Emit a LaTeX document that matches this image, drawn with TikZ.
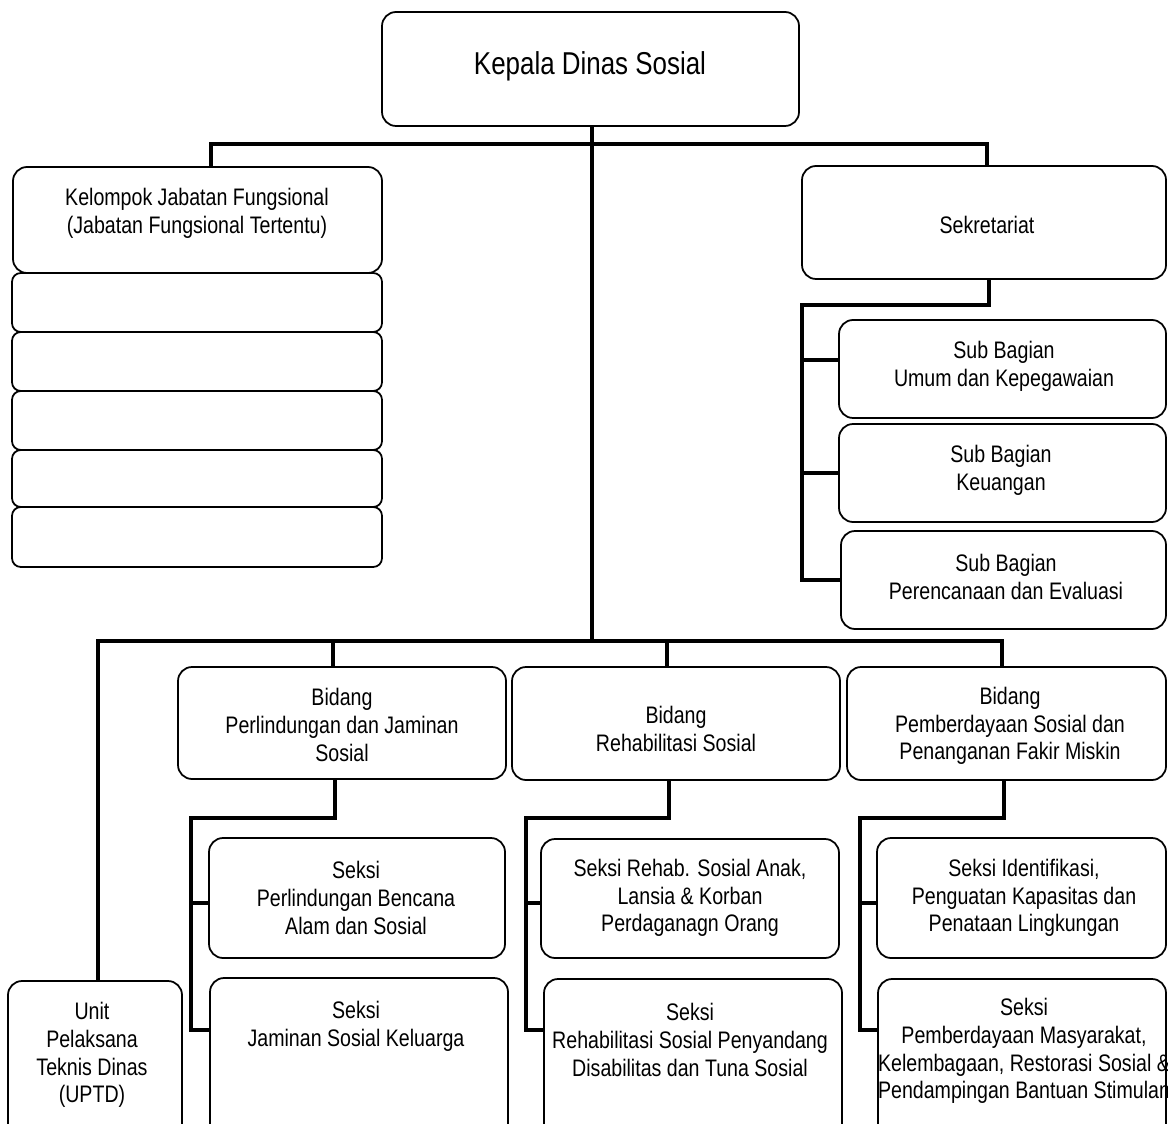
\documentclass[tikz,border=0pt]{standalone}
\usepackage{fontspec}
\setmainfont{Liberation Sans}[FakeStretch=0.82]
\usetikzlibrary{fit}
\tikzset{
  box/.style={draw=black, line width=1pt, rounded corners=8pt, inner sep=0pt, fill=white},
  sbox/.style={box, rounded corners=5pt},
  conn/.style={draw=black, line width=2.1pt, line cap=rect, line join=miter},
  txt/.style={align=center, inner sep=0pt, font=\fontsize{13.6}{15.8}\selectfont},
  big/.style={align=center, inner sep=0pt, font=\fontsize{18}{21}\selectfont}
}
\newcommand\bx[6][box]{\node[#1, fit={(#3,#4) (#5,#6)}] (#2) {};}
\begin{document}
\begin{tikzpicture}[x=0.02cm, y=-0.02cm]
\clip (0,0) rectangle (1168,1124);
\fill[white] (0,0) rectangle (1168,1124);

% helper coordinates
\coordinate (xM) at (592,0);
\coordinate (xK) at (211,0);
\coordinate (xS) at (987,0);
\coordinate (xS2) at (989,0);
\coordinate (xSv) at (802,0);
\coordinate (tbar) at (0,144);
\coordinate (sbar) at (0,305);
\coordinate (bbar) at (0,641);
\coordinate (xU) at (98,0);
\coordinate (xB1) at (333,0);
\coordinate (xB2) at (667,0);
\coordinate (xB3) at (1002,0);
\coordinate (xB1d) at (335,0);
\coordinate (xB2d) at (669,0);
\coordinate (xB3d) at (1004,0);
\coordinate (xV1) at (191,0);
\coordinate (xV2) at (526,0);
\coordinate (xV3) at (860,0);
\coordinate (lbar) at (0,818);
\coordinate (yA) at (0,903);
\coordinate (yB) at (0,1030);
\coordinate (ySB1) at (0,360);

% connectors (drawn first, boxes on top)
\draw[conn] (xM |- 0,126) -- (xM |- bbar);
\draw[conn] (xK |- 0,167) -- (xK |- tbar) -- (xS |- tbar) -- (xS |- 0,166);
\draw[conn] (xS2 |- 0,279) -- (xS2 |- sbar) -- (xSv |- sbar) -- (xSv |- 0,579);
\draw[conn] (xU |- 0,981) -- (xU |- bbar) -- (xB3 |- bbar) -- (xB3 |- 0,667);
\draw[conn] (xB1 |- bbar) -- (xB1 |- 0,667);
\draw[conn] (xB2 |- bbar) -- (xB2 |- 0,667);
\foreach \d/\v in {xB1d/xV1, xB2d/xV2, xB3d/xV3}{
  \draw[conn] (\d |- 0,779) -- (\d |- lbar) -- (\v |- lbar) -- (\v |- yB);
}

% boxes
\bx{kepala}{382}{12}{799}{126}
\bx{kelompok}{13}{167}{382}{273}
\bx[sbox]{jf1}{12}{273}{382}{332}
\bx[sbox]{jf2}{12}{332}{382}{391}
\bx[sbox]{jf3}{12}{391}{382}{450}
\bx[sbox]{jf4}{12}{450}{382}{507}
\bx[sbox]{jf5}{12}{507}{382}{567}
\bx{sekr}{802}{166}{1166}{279}
\bx{sb1}{839}{320}{1166}{418}
\bx{sb2}{839}{424}{1166}{522}
\bx{sb3}{841}{531}{1166}{629}
\bx{bid1}{178}{667}{506}{779}
\bx{bid2}{512}{667}{840}{780}
\bx{bid3}{847}{667}{1166}{780}
\bx{sek1}{209}{838}{505}{958}
\bx{sekR}{541}{839}{839}{958}
\bx{sekI}{877}{838}{1166}{958}
\bx{sek2}{210}{978}{508}{1150}
\bx{sekRh}{544}{979}{842}{1150}
\bx{sekP}{878}{979}{1166}{1150}
\bx{uptd}{8}{981}{182}{1150}

% branches into boxes
\draw[conn] (xSv |- ySB1) -- (sb1.west |- ySB1);
\draw[conn] (xSv |- sb2.west) -- (sb2.west);
\draw[conn] (xSv |- sb3.west) -- (sb3.west);
\draw[conn] (xV1 |- yA) -- (sek1.west |- yA);
\draw[conn] (xV1 |- yB) -- (sek2.west |- yB);
\draw[conn] (xV2 |- yA) -- (sekR.west |- yA);
\draw[conn] (xV2 |- yB) -- (sekRh.west |- yB);
\draw[conn] (xV3 |- yA) -- (sekI.west |- yA);
\draw[conn] (xV3 |- yB) -- (sekP.west |- yB);

% texts
\node[big] (t-kepala) at (590,66) {Kepala Dinas Sosial};
\node[txt] (t-kelompok) at (197,213) {Kelompok Jabatan Fungsional\\(Jabatan Fungsional Tertentu)};
\node[txt] (t-sekr) at (987,225) {Sekretariat};
\node[txt] (t-sb1) at (1004,366) {Sub Bagian\\Umum dan Kepegawaian};
\node[txt] (t-sb2) at (1001,470) {Sub Bagian\\Keuangan};
\node[txt] (t-sb3) at (1006,577) {Sub Bagian\\Perencanaan dan Evaluasi};
\node[txt] (t-bid1) at (342,725) {Bidang\\Perlindungan dan Jaminan\\Sosial};
\node[txt] (t-bid2) at (676,729) {Bidang\\Rehabilitasi Sosial};
\node[txt] (t-bid3) at (1010,726) {Bidang\\Pemberdayaan Sosial dan\\Penanganan Fakir Miskin};
\node[txt] (t-sek1) at (356,898) {Seksi\\Perlindungan Bencana\\Alam dan Sosial};
\node[txt] (t-sekR) at (690,898) {Seksi Rehab. Sosial Anak,\\Lansia \& Korban\\Perdaganagn Orang};
\node[txt] (t-sekI) at (1024,898) {Seksi Identifikasi,\\Penguatan Kapasitas dan\\Penataan Lingkungan};
\node[txt] (t-sek2) at (356,1026) {Seksi\\Jaminan Sosial Keluarga};
\node[txt] (t-sekRh) at (690,1040) {Seksi\\Rehabilitasi Sosial Penyandang\\Disabilitas dan Tuna Sosial};
\node[txt] (t-sekP) at (1024,1051) {Seksi\\Pemberdayaan Masyarakat,\\Kelembagaan, Restorasi Sosial \&\\Pendampingan Bantuan Stimulan};
\node[txt] (t-uptd) at (92,1055) {Unit\\Pelaksana\\Teknis Dinas\\(UPTD)};
\end{tikzpicture}
\end{document}
